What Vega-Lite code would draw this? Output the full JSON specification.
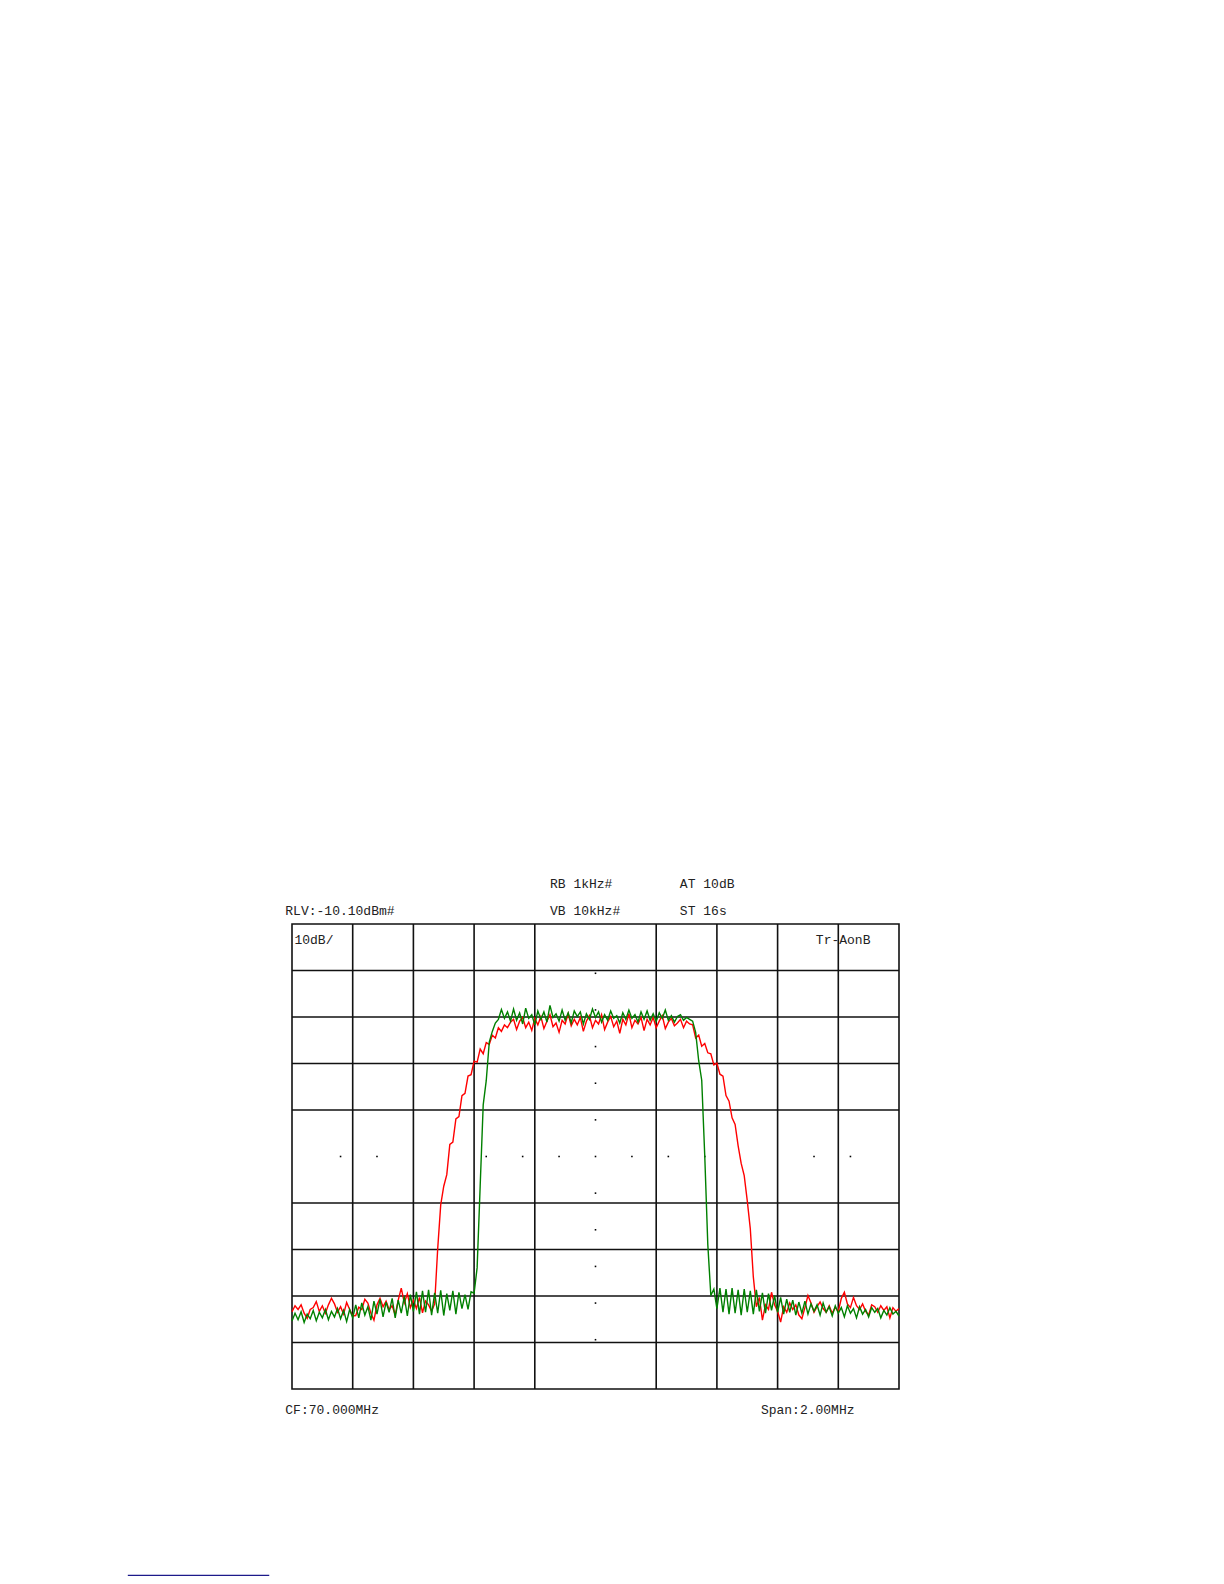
{
  "$schema": "https://vega.github.io/schema/vega-lite/v6.json",
  "autosize": {"type": "none"},
  "width": 607,
  "height": 465,
  "padding": {"left": 292, "top": 924, "right": 325, "bottom": 195},
  "background": "white",
  "config": {"view": {"stroke": "#111111", "strokeWidth": 1.6}},
  "datasets": {
    "vgrid": [{"f": 69.2}, {"f": 69.4}, {"f": 69.6}, {"f": 69.8}, {"f": 70.2}, {"f": 70.4}, {"f": 70.6}, {"f": 70.8}],
    "hgrid": [{"db": -20.1}, {"db": -30.1}, {"db": -40.1}, {"db": -50.1}, {"db": -70.1}, {"db": -80.1}, {"db": -90.1}, {"db": -100.1}],
    "dots": [
      {"f": 69.16, "db": -60.1}, {"f": 69.28, "db": -60.1},
      {"f": 69.64, "db": -60.1}, {"f": 69.76, "db": -60.1}, {"f": 69.88, "db": -60.1}, {"f": 70.00, "db": -60.1},
      {"f": 70.12, "db": -60.1}, {"f": 70.24, "db": -60.1}, {"f": 70.36, "db": -60.1},
      {"f": 70.72, "db": -60.1}, {"f": 70.84, "db": -60.1},
      {"f": 70.0, "db": -20.70}, {"f": 70.0, "db": -28.58}, {"f": 70.0, "db": -36.46}, {"f": 70.0, "db": -44.34},
      {"f": 70.0, "db": -52.22}, {"f": 70.0, "db": -67.98}, {"f": 70.0, "db": -75.86}, {"f": 70.0, "db": -83.74},
      {"f": 70.0, "db": -91.62}, {"f": 70.0, "db": -99.50}
    ],
    "labels": [
      {"f": 69.850, "db": -1.43, "label": "RB 1kHz#"},
      {"f": 70.278, "db": -1.43, "label": "AT 10dB"},
      {"f": 68.978, "db": -7.28, "label": "RLV:-10.10dBm#"},
      {"f": 69.850, "db": -7.28, "label": "VB 10kHz#"},
      {"f": 70.278, "db": -7.28, "label": "ST 16s"},
      {"f": 69.008, "db": -13.59, "label": "10dB/"},
      {"f": 70.726, "db": -13.59, "label": "Tr-AonB"},
      {"f": 68.978, "db": -114.64, "label": "CF:70.000MHz"},
      {"f": 70.545, "db": -114.64, "label": "Span:2.00MHz"}
    ],
    "link": [{"f": 68.459, "f2": 68.925, "db": -150.19}],
    "tr": [
      {"f": 69.00, "r": -93.5, "g": -95.5}, {"f": 69.01, "r": -92.2, "g": -93.8}, {"f": 69.02, "r": -93.0, "g": -95.2},
      {"f": 69.03, "r": -92.0, "g": -93.5}, {"f": 69.04, "r": -93.8, "g": -95.8}, {"f": 69.05, "r": -94.9, "g": -94.0},
      {"f": 69.06, "r": -93.0, "g": -95.0}, {"f": 69.07, "r": -92.6, "g": -93.2}, {"f": 69.08, "r": -91.3, "g": -95.4},
      {"f": 69.09, "r": -93.4, "g": -93.6}, {"f": 69.10, "r": -92.2, "g": -94.8}, {"f": 69.11, "r": -93.8, "g": -93.0},
      {"f": 69.12, "r": -92.0, "g": -95.2}, {"f": 69.13, "r": -90.6, "g": -93.4}, {"f": 69.14, "r": -91.8, "g": -94.6},
      {"f": 69.15, "r": -93.6, "g": -92.8}, {"f": 69.16, "r": -92.4, "g": -95.0}, {"f": 69.17, "r": -94.0, "g": -93.2},
      {"f": 69.18, "r": -91.5, "g": -95.6}, {"f": 69.19, "r": -93.0, "g": -93.0}, {"f": 69.20, "r": -94.4, "g": -94.8},
      {"f": 69.21, "r": -94.3, "g": -92.0}, {"f": 69.22, "r": -92.5, "g": -94.8}, {"f": 69.23, "r": -93.0, "g": -91.6},
      {"f": 69.24, "r": -90.8, "g": -94.2}, {"f": 69.25, "r": -91.6, "g": -92.4}, {"f": 69.26, "r": -93.8, "g": -95.3},
      {"f": 69.27, "r": -95.3, "g": -91.2}, {"f": 69.28, "r": -92.0, "g": -94.0}, {"f": 69.29, "r": -90.6, "g": -90.8},
      {"f": 69.30, "r": -92.4, "g": -94.6}, {"f": 69.31, "r": -91.2, "g": -91.4}, {"f": 69.32, "r": -93.0, "g": -93.6},
      {"f": 69.33, "r": -92.2, "g": -90.6}, {"f": 69.34, "r": -94.2, "g": -94.8}, {"f": 69.35, "r": -91.0, "g": -91.0},
      {"f": 69.36, "r": -88.4, "g": -93.8}, {"f": 69.37, "r": -91.6, "g": -90.2}, {"f": 69.38, "r": -89.6, "g": -94.4},
      {"f": 69.39, "r": -92.6, "g": -89.8}, {"f": 69.40, "r": -91.0, "g": -93.4}, {"f": 69.41, "r": -92.8, "g": -89.2},
      {"f": 69.42, "r": -90.4, "g": -94.0}, {"f": 69.43, "r": -93.7, "g": -89.0}, {"f": 69.44, "r": -91.2, "g": -93.6},
      {"f": 69.45, "r": -92.0, "g": -88.8}, {"f": 69.46, "r": -93.4, "g": -94.2}, {"f": 69.47, "r": -91.8, "g": -89.4},
      {"f": 69.48, "r": -80.0, "g": -93.8}, {"f": 69.49, "r": -70.5, "g": -88.9}, {"f": 69.50, "r": -66.5, "g": -94.3},
      {"f": 69.51, "r": -64.0, "g": -89.6}, {"f": 69.52, "r": -57.5, "g": -93.2}, {"f": 69.53, "r": -57.0, "g": -89.0},
      {"f": 69.54, "r": -52.0, "g": -94.0}, {"f": 69.55, "r": -51.5, "g": -89.3}, {"f": 69.56, "r": -47.0, "g": -92.8},
      {"f": 69.57, "r": -46.5, "g": -89.8}, {"f": 69.58, "r": -42.8, "g": -93.0}, {"f": 69.59, "r": -42.5, "g": -89.2},
      {"f": 69.60, "r": -39.6, "g": -89.5}, {"f": 69.61, "r": -39.8, "g": -84.0}, {"f": 69.62, "r": -37.0, "g": -66.5},
      {"f": 69.63, "r": -38.0, "g": -49.0}, {"f": 69.64, "r": -35.6, "g": -43.8}, {"f": 69.65, "r": -36.0, "g": -35.5},
      {"f": 69.66, "r": -34.0, "g": -33.2}, {"f": 69.67, "r": -34.6, "g": -31.4}, {"f": 69.68, "r": -32.4, "g": -30.6},
      {"f": 69.69, "r": -33.2, "g": -28.5}, {"f": 69.70, "r": -31.8, "g": -30.4}, {"f": 69.71, "r": -32.4, "g": -29.0},
      {"f": 69.72, "r": -31.2, "g": -31.0}, {"f": 69.73, "r": -30.6, "g": -28.4}, {"f": 69.74, "r": -32.8, "g": -30.8},
      {"f": 69.75, "r": -31.0, "g": -29.2}, {"f": 69.76, "r": -30.2, "g": -31.6}, {"f": 69.77, "r": -32.4, "g": -28.2},
      {"f": 69.78, "r": -31.2, "g": -30.4}, {"f": 69.79, "r": -33.0, "g": -29.6}, {"f": 69.80, "r": -30.4, "g": -31.8},
      {"f": 69.81, "r": -31.8, "g": -28.8}, {"f": 69.82, "r": -30.0, "g": -30.6}, {"f": 69.83, "r": -32.6, "g": -29.0},
      {"f": 69.84, "r": -31.0, "g": -31.2}, {"f": 69.85, "r": -29.6, "g": -27.6}, {"f": 69.86, "r": -32.2, "g": -30.2},
      {"f": 69.87, "r": -31.4, "g": -29.4}, {"f": 69.88, "r": -33.4, "g": -31.0}, {"f": 69.89, "r": -30.8, "g": -28.6},
      {"f": 69.90, "r": -31.6, "g": -30.8}, {"f": 69.91, "r": -29.4, "g": -29.2}, {"f": 69.92, "r": -32.0, "g": -31.4},
      {"f": 69.93, "r": -30.6, "g": -28.8}, {"f": 69.94, "r": -31.8, "g": -30.0}, {"f": 69.95, "r": -30.2, "g": -29.0},
      {"f": 69.96, "r": -33.2, "g": -31.6}, {"f": 69.97, "r": -31.0, "g": -29.4}, {"f": 69.98, "r": -29.8, "g": -30.6},
      {"f": 69.99, "r": -32.4, "g": -28.4}, {"f": 70.00, "r": -30.8, "g": -30.2}, {"f": 70.01, "r": -31.6, "g": -29.0},
      {"f": 70.02, "r": -29.6, "g": -31.2}, {"f": 70.03, "r": -32.8, "g": -29.6}, {"f": 70.04, "r": -31.2, "g": -30.8},
      {"f": 70.05, "r": -30.0, "g": -28.8}, {"f": 70.06, "r": -32.2, "g": -30.4}, {"f": 70.07, "r": -31.0, "g": -29.8},
      {"f": 70.08, "r": -33.6, "g": -31.4}, {"f": 70.09, "r": -30.6, "g": -29.2}, {"f": 70.10, "r": -31.8, "g": -30.6},
      {"f": 70.11, "r": -29.4, "g": -28.6}, {"f": 70.12, "r": -32.4, "g": -30.4}, {"f": 70.13, "r": -30.8, "g": -29.6},
      {"f": 70.14, "r": -31.6, "g": -31.2}, {"f": 70.15, "r": -30.2, "g": -29.0}, {"f": 70.16, "r": -33.0, "g": -30.6},
      {"f": 70.17, "r": -30.6, "g": -28.8}, {"f": 70.18, "r": -31.8, "g": -30.8}, {"f": 70.19, "r": -30.2, "g": -29.4},
      {"f": 70.20, "r": -32.4, "g": -31.0}, {"f": 70.21, "r": -31.0, "g": -29.2}, {"f": 70.22, "r": -29.8, "g": -30.4},
      {"f": 70.23, "r": -32.6, "g": -28.6}, {"f": 70.24, "r": -31.2, "g": -30.8}, {"f": 70.25, "r": -30.4, "g": -29.8},
      {"f": 70.26, "r": -32.0, "g": -31.2}, {"f": 70.27, "r": -31.4, "g": -30.0}, {"f": 70.28, "r": -30.6, "g": -29.6},
      {"f": 70.29, "r": -32.4, "g": -30.8}, {"f": 70.30, "r": -31.0, "g": -30.2}, {"f": 70.31, "r": -31.6, "g": -30.6},
      {"f": 70.32, "r": -31.8, "g": -31.0}, {"f": 70.33, "r": -34.6, "g": -33.4}, {"f": 70.34, "r": -34.0, "g": -39.5},
      {"f": 70.35, "r": -36.4, "g": -43.7}, {"f": 70.36, "r": -35.8, "g": -60.0}, {"f": 70.37, "r": -37.8, "g": -79.0},
      {"f": 70.38, "r": -38.0, "g": -90.0}, {"f": 70.39, "r": -40.4, "g": -88.6}, {"f": 70.40, "r": -40.0, "g": -92.8},
      {"f": 70.41, "r": -42.4, "g": -88.4}, {"f": 70.42, "r": -42.8, "g": -93.6}, {"f": 70.43, "r": -47.0, "g": -88.6},
      {"f": 70.44, "r": -48.2, "g": -94.0}, {"f": 70.45, "r": -51.8, "g": -88.4}, {"f": 70.46, "r": -53.2, "g": -93.8},
      {"f": 70.47, "r": -57.8, "g": -88.8}, {"f": 70.48, "r": -61.6, "g": -94.2}, {"f": 70.49, "r": -64.2, "g": -88.6},
      {"f": 70.50, "r": -69.6, "g": -93.6}, {"f": 70.51, "r": -75.6, "g": -89.0}, {"f": 70.52, "r": -86.0, "g": -94.0},
      {"f": 70.53, "r": -92.4, "g": -88.8}, {"f": 70.54, "r": -90.4, "g": -93.4}, {"f": 70.55, "r": -95.3, "g": -89.4},
      {"f": 70.56, "r": -92.0, "g": -93.8}, {"f": 70.57, "r": -93.0, "g": -89.6}, {"f": 70.58, "r": -89.3, "g": -93.2},
      {"f": 70.59, "r": -92.0, "g": -90.0}, {"f": 70.60, "r": -93.4, "g": -93.6}, {"f": 70.61, "r": -95.7, "g": -90.4},
      {"f": 70.62, "r": -92.4, "g": -94.0}, {"f": 70.63, "r": -93.6, "g": -90.8}, {"f": 70.64, "r": -91.6, "g": -93.6},
      {"f": 70.65, "r": -93.0, "g": -91.0}, {"f": 70.66, "r": -92.0, "g": -94.2}, {"f": 70.67, "r": -94.2, "g": -91.4},
      {"f": 70.68, "r": -95.0, "g": -93.8}, {"f": 70.69, "r": -92.6, "g": -91.2}, {"f": 70.70, "r": -90.0, "g": -94.0},
      {"f": 70.71, "r": -91.6, "g": -91.8}, {"f": 70.72, "r": -93.6, "g": -93.4}, {"f": 70.73, "r": -92.4, "g": -92.0},
      {"f": 70.74, "r": -91.4, "g": -94.2}, {"f": 70.75, "r": -92.8, "g": -91.6}, {"f": 70.76, "r": -93.6, "g": -93.6},
      {"f": 70.77, "r": -92.2, "g": -92.4}, {"f": 70.78, "r": -93.8, "g": -94.4}, {"f": 70.79, "r": -92.6, "g": -92.2},
      {"f": 70.80, "r": -93.4, "g": -93.8}, {"f": 70.81, "r": -90.6, "g": -92.6}, {"f": 70.82, "r": -89.3, "g": -94.6},
      {"f": 70.83, "r": -91.8, "g": -92.2}, {"f": 70.84, "r": -92.6, "g": -93.8}, {"f": 70.85, "r": -90.4, "g": -92.8},
      {"f": 70.86, "r": -92.2, "g": -94.8}, {"f": 70.87, "r": -93.0, "g": -92.4}, {"f": 70.88, "r": -91.8, "g": -94.0},
      {"f": 70.89, "r": -93.4, "g": -93.0}, {"f": 70.90, "r": -94.2, "g": -94.6}, {"f": 70.91, "r": -92.0, "g": -92.6},
      {"f": 70.92, "r": -92.4, "g": -93.6}, {"f": 70.93, "r": -93.6, "g": -92.8}, {"f": 70.94, "r": -92.2, "g": -94.8},
      {"f": 70.95, "r": -93.2, "g": -93.2}, {"f": 70.96, "r": -92.4, "g": -94.2}, {"f": 70.97, "r": -94.8, "g": -92.6},
      {"f": 70.98, "r": -92.6, "g": -94.0}, {"f": 70.99, "r": -93.4, "g": -93.4}, {"f": 71.00, "r": -92.8, "g": -94.4}
    ]
  },
  "layer": [
    {
      "data": {"name": "vgrid"},
      "mark": {"type": "rule", "color": "#111111", "strokeWidth": 1.6},
      "encoding": {
        "x": {"field": "f", "type": "quantitative", "scale": {"domain": [69, 71], "nice": false, "zero": false}, "axis": null}
      }
    },
    {
      "data": {"name": "hgrid"},
      "mark": {"type": "rule", "color": "#111111", "strokeWidth": 1.6},
      "encoding": {
        "y": {"field": "db", "type": "quantitative", "scale": {"domain": [-110.1, -10.1], "nice": false, "zero": false}, "axis": null}
      }
    },
    {
      "data": {"name": "dots"},
      "mark": {"type": "point", "shape": "square", "filled": true, "size": 2.5, "color": "#000000", "opacity": 1},
      "encoding": {
        "x": {"field": "f", "type": "quantitative", "axis": null},
        "y": {"field": "db", "type": "quantitative", "axis": null}
      }
    },
    {
      "data": {"name": "tr"},
      "mark": {"type": "line", "color": "#ff0000", "strokeWidth": 1.4},
      "encoding": {
        "x": {"field": "f", "type": "quantitative", "axis": null},
        "y": {"field": "r", "type": "quantitative", "axis": null}
      }
    },
    {
      "data": {"name": "tr"},
      "mark": {"type": "line", "color": "#008000", "strokeWidth": 1.4},
      "encoding": {
        "x": {"field": "f", "type": "quantitative", "axis": null},
        "y": {"field": "g", "type": "quantitative", "axis": null}
      }
    },
    {
      "data": {"name": "labels"},
      "mark": {"type": "text", "align": "left", "baseline": "middle", "font": "Liberation Mono", "fontSize": 13, "color": "#222222"},
      "encoding": {
        "x": {"field": "f", "type": "quantitative", "axis": null},
        "y": {"field": "db", "type": "quantitative", "axis": null},
        "text": {"field": "label", "type": "nominal"}
      }
    },
    {
      "data": {"name": "link"},
      "mark": {"type": "rule", "color": "#1c1a8a", "strokeWidth": 1.2},
      "encoding": {
        "x": {"field": "f", "type": "quantitative", "axis": null},
        "x2": {"field": "f2"},
        "y": {"field": "db", "type": "quantitative", "axis": null}
      }
    }
  ]
}
